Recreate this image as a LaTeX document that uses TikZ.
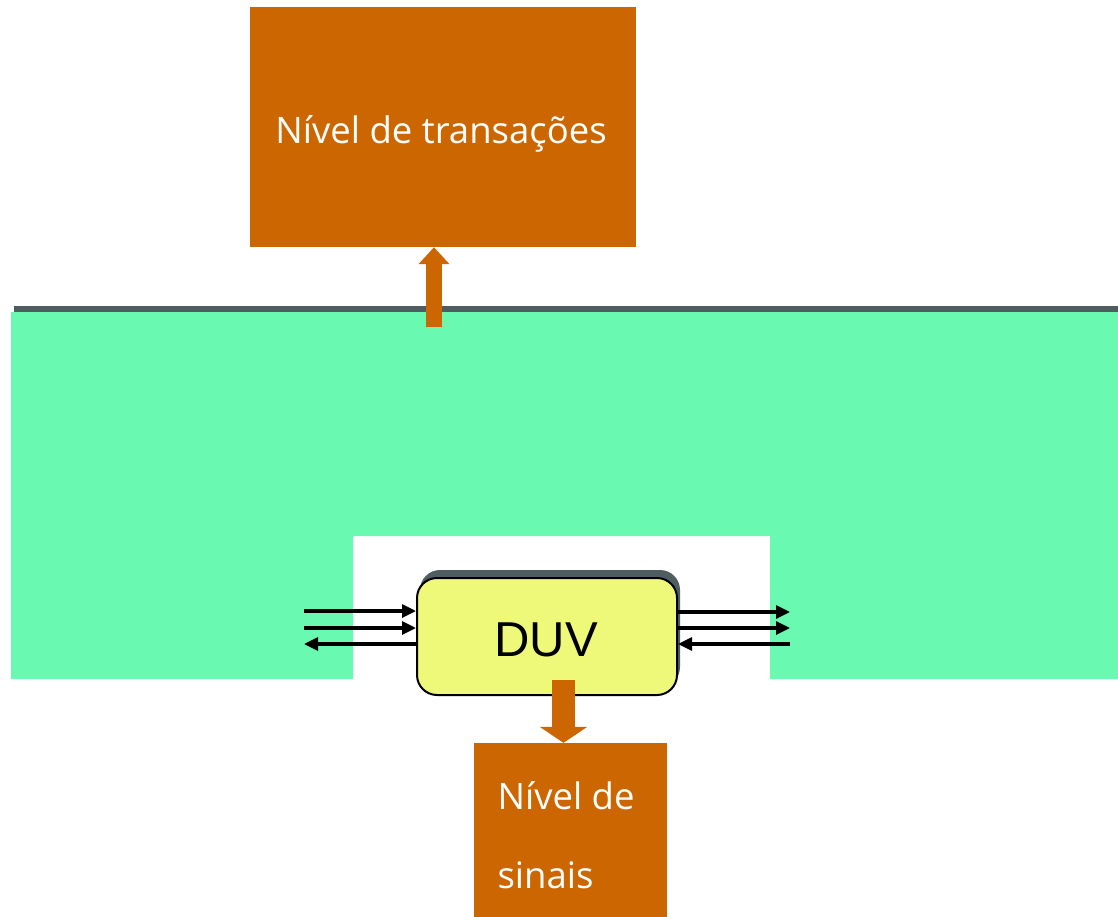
\documentclass[tikz,border=0pt]{standalone}
\usepackage{fontspec}
\setmainfont{Open Sans}
\newfontfamily\duvfont{Liberation Sans}
\usetikzlibrary{arrows.meta,shadows}
\definecolor{orng}{HTML}{CC6600}
\definecolor{grn}{HTML}{69F9B0}
\definecolor{gline}{HTML}{4F5D61}
\definecolor{yel}{HTML}{EEF97A}
\begin{document}
\begin{tikzpicture}[x=1pt,y=-1pt,
  obox/.style={fill=orng,draw=none,inner sep=0pt},
  otext/.style={text=white,font=\fontsize{36.5}{44}\selectfont},
  sig/.style={black,line width=3.2pt,-{Triangle[length=14pt,width=13pt]}},
  blockarrow/.style={orng,line width=16pt,-{Triangle[length=17pt,width=30pt]}},
  blockarrowd/.style={orng,line width=23pt,-{Triangle[length=16pt,width=47pt]}}]
\useasboundingbox (0,0) rectangle (1118,917);
% green area with cut-out
\fill[grn] (11,312) -- (1118,312) -- (1118,679) -- (770,679) -- (770,536) -- (353,536) -- (353,679) -- (11,679) -- cycle;
\fill[gline] (14,306) rectangle (1118,312);
% top box
\node[obox,minimum width=386pt,minimum height=240pt] (trans) at (443,127) {};
\node[otext,anchor=base] (ttext) at (441,144) {Nível de transações};
% bottom box
\node[obox,minimum width=193pt,minimum height=174pt] (sin) at (570.5,830) {};
\node[otext,anchor=base west] (stext1) at (494,809) {Nível de};
\node[otext,anchor=base west] (stext2) at (494,888) {sinais};
% DUV box
\node[draw=black,line width=2pt,fill=yel,rounded corners=20pt,minimum width=260pt,minimum height=117pt,
  drop shadow={shadow xshift=3pt,shadow yshift=8pt,fill=gline,opacity=1}] (duv) at (547,636.5) {};
\node[font=\duvfont\fontsize{49}{55}\selectfont] (duvt) at (546,640) {DUV};
% orange arrows
\coordinate (upstart) at (434,327);
\draw[blockarrow] (upstart) -- (upstart |- trans.south);
\coordinate (dnstart) at (563.5,680);
\draw[blockarrowd] (dnstart) -- (dnstart |- sin.north);
% signal arrows left
\coordinate (l1) at (304,611);
\coordinate (l2) at (304,628);
\coordinate (l3) at (304,644);
\draw[sig] (l1) -- (l1 -| duv.west);
\draw[sig] (l2) -- (l2 -| duv.west);
\draw[sig] (l3 -| duv.west) -- (l3);
% signal arrows right
\coordinate (r1) at (790,612);
\coordinate (r2) at (790,628);
\coordinate (r3) at (790,644);
\draw[sig] (r1 -| duv.east) -- (r1);
\draw[sig] (r2 -| duv.east) -- (r2);
\draw[sig] (r3) -- (r3 -| duv.east);
\end{tikzpicture}
\end{document}
